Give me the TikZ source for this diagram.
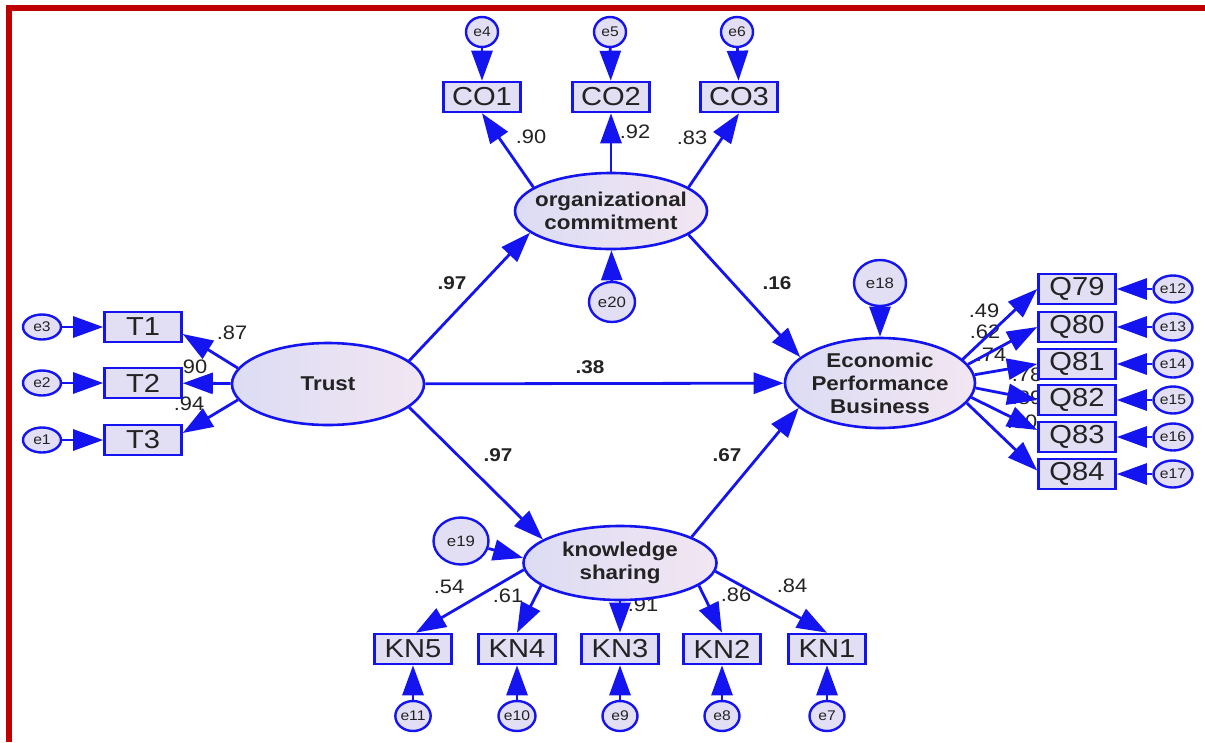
\documentclass[tikz,border=0pt]{standalone}
\usepackage{fontspec}
\setmainfont{Liberation Sans}[FakeStretch=1.12]
\usetikzlibrary{arrows.meta,shapes.geometric,backgrounds}
\definecolor{lineblue}{RGB}{20,20,240}
\definecolor{boxfill}{RGB}{226,222,244}
\definecolor{ellL}{RGB}{220,220,244}
\definecolor{ellR}{RGB}{242,230,242}
\definecolor{frame}{RGB}{192,0,0}
\definecolor{txt}{RGB}{35,35,35}
\begin{document}
\begin{tikzpicture}[x=1pt,y=-1pt,
 obs/.style={draw=lineblue,line width=2.6pt,fill=boxfill,minimum width=77pt,minimum height=30pt,inner sep=0pt,text=txt,font=\fontsize{26}{26}\selectfont},
 lat/.style={ellipse,draw=lineblue,line width=2.6pt,left color=ellL,right color=ellR,inner sep=0pt},
 lattext/.style={text=txt,font=\fontsize{20}{23}\selectfont\bfseries,align=center,inner sep=0pt},
 err/.style={ellipse,draw=lineblue,line width=2.4pt,fill=boxfill,inner sep=0pt,text=txt,font=\fontsize{14}{14}\selectfont},
 arr/.style={draw=lineblue,line width=2.8pt,-{Triangle[length=30pt,width=21pt]}},
 ld/.style={text=txt,font=\fontsize{19.5}{20}\selectfont,inner sep=0pt},
 pc/.style={text=txt,font=\fontsize{18.5}{19}\selectfont\bfseries,inner sep=0pt},
]
\useasboundingbox (0,0) rectangle (1205,742);

% latent variables
\node[lat,minimum width=192pt,minimum height=76pt] (OC) at (611,211) {};
\node[lattext] (OCt) at (OC) {organizational\\commitment};
\node[lat,minimum width=192pt,minimum height=82pt] (Trust) at (328,384) {};
\node[lattext] (Trustt) at (Trust) {Trust};
\node[lat,minimum width=190pt,minimum height=90pt] (EPB) at (880,383) {};
\node[lattext] (EPBt) at (EPB) {Economic\\Performance\\Business};
\node[lat,minimum width=193pt,minimum height=74pt] (KS) at (620,563) {};
\node[lattext] (KSt) at (KS) {knowledge\\sharing};

% observed
\node[obs] (CO1) at (482,97) {CO1};
\node[obs] (CO2) at (611,97) {CO2};
\node[obs] (CO3) at (739,97) {CO3};
\node[obs] (T1) at (143,327) {T1};
\node[obs] (T2) at (143,383) {T2};
\node[obs] (T3) at (143,440) {T3};
\node[obs] (Q79) at (1077,289) {Q79};
\node[obs] (Q80) at (1077,327) {Q80};
\node[obs] (Q81) at (1077,364) {Q81};
\node[obs] (Q82) at (1077,400) {Q82};
\node[obs] (Q83) at (1077,437) {Q83};
\node[obs] (Q84) at (1077,474) {Q84};
\node[obs] (KN5) at (413,649) {KN5};
\node[obs] (KN4) at (517,649) {KN4};
\node[obs] (KN3) at (620,649) {KN3};
\node[obs] (KN2) at (722,649) {KN2};
\node[obs] (KN1) at (827,649) {KN1};

% errors
\node[err,minimum width=32pt,minimum height=30pt] (e4) at (482,32) {e4};
\node[err,minimum width=32pt,minimum height=30pt] (e5) at (610,32) {e5};
\node[err,minimum width=32pt,minimum height=30pt] (e6) at (737,32) {e6};
\node[err,minimum width=38pt,minimum height=25pt] (e3) at (42,327) {e3};
\node[err,minimum width=38pt,minimum height=25pt] (e2) at (42,383) {e2};
\node[err,minimum width=38pt,minimum height=25pt] (e1) at (42,440) {e1};
\node[err,minimum width=39pt,minimum height=27pt] (e12) at (1173,289) {e12};
\node[err,minimum width=39pt,minimum height=27pt] (e13) at (1173,327) {e13};
\node[err,minimum width=39pt,minimum height=27pt] (e14) at (1173,364) {e14};
\node[err,minimum width=39pt,minimum height=27pt] (e15) at (1173,400) {e15};
\node[err,minimum width=39pt,minimum height=27pt] (e16) at (1173,437) {e16};
\node[err,minimum width=39pt,minimum height=27pt] (e17) at (1173,474) {e17};
\node[err,minimum width=35pt,minimum height=30pt] (e11) at (413,716) {e11};
\node[err,minimum width=35pt,minimum height=30pt] (e10) at (517,716) {e10};
\node[err,minimum width=35pt,minimum height=30pt] (e9) at (620,716) {e9};
\node[err,minimum width=35pt,minimum height=30pt] (e8) at (722,716) {e8};
\node[err,minimum width=35pt,minimum height=30pt] (e7) at (827,716) {e7};
\node[err,minimum width=52pt,minimum height=46pt,font=\fontsize{15}{15}\selectfont] (e18) at (880,283) {e18};
\node[err,minimum width=55pt,minimum height=47pt,font=\fontsize{15}{15}\selectfont] (e19) at (461,541) {e19};
\node[err,minimum width=46pt,minimum height=40pt,font=\fontsize{15}{15}\selectfont] (e20) at (612,302) {e20};

% background, frame and coefficient labels (behind arrows)
\begin{scope}[on background layer]
\fill[white] (0,0) rectangle (1205,742);
\fill[frame] (6,5) rectangle (1205,11);
\fill[frame] (6,5) rectangle (12,742);
\node[ld] (l1) at (531,137) {.90};
\node[ld] (l2) at (635,132) {.92};
\node[ld] (l3) at (692,138) {.83};
\node[pc] (p1) at (452,283) {.97};
\node[pc] (p2) at (777,283) {.16};
\node[pc] (p3) at (590,367) {.38};
\node[pc] (p4) at (498,455) {.97};
\node[pc] (p5) at (727,455) {.67};
\node[ld] (l4) at (232,333) {.87};
\node[ld] (l5) at (192,367) {.90};
\node[ld] (l6) at (189,404) {.94};
\node[ld] (l7) at (984,311) {.49};
\node[ld] (l8) at (985,332) {.62};
\node[ld] (l9) at (991,355) {.74};
\node[ld] (l10) at (1027,375) {.78};
\node[ld] (l11) at (1027,398) {.89};
\node[ld] (l12) at (1022,422) {.80};
\node[ld] (l13) at (449,587) {.54};
\node[ld] (l14) at (508,596) {.61};
\node[ld] (l15) at (643,605) {.91};
\node[ld] (l16) at (736,595) {.86};
\node[ld] (l17) at (792,586) {.84};
\end{scope}

% connectors
\draw[arr] (e4) -- (CO1);
\draw[arr] (e5) -- (CO2);
\draw[arr] (e6) -- (CO3);
\draw[arr] (OC.163) -- (CO1.south);
\draw[arr] (OC) -- (CO2);
\draw[arr] (OC.17) -- (CO3.south);
\draw[arr] (e20) -- (OC);
\draw[arr] (Trust.16) -- (OC.195);
\draw[arr] (Trust) -- (EPB);
\draw[arr] (Trust.-16) -- (KS.163);
\draw[arr] (OC.-17) -- (EPB.162);
\draw[arr] (KS.20) -- (EPB.197);
\draw[arr] (e18) -- (EPB);
\draw[arr] (Trust.170) -- (T1.-10);
\draw[arr] (Trust) -- (T2);
\draw[arr] (Trust.190) -- (T3.10);
\draw[arr] (e3) -- (T1);
\draw[arr] (e2) -- (T2);
\draw[arr] (e1) -- (T3);
\draw[arr] (EPB.16) -- (Q79.west);
\draw[arr] (EPB.12) -- (Q80.west);
\draw[arr] (EPB.5) -- (Q81.west);
\draw[arr] (EPB.-3) -- (Q82.west);
\draw[arr] (EPB.-9) -- (Q83.170);
\draw[arr] (EPB.-13) -- (Q84.175);
\draw[arr] (e12) -- (Q79);
\draw[arr] (e13) -- (Q80);
\draw[arr] (e14) -- (Q81);
\draw[arr] (e15) -- (Q82);
\draw[arr] (e16) -- (Q83);
\draw[arr] (e17) -- (Q84);
\draw[arr] (e19) -- (KS.177);
\draw[arr] (KS.184) -- (KN5.80);
\draw[arr] (KS.196) -- (KN4.north);
\draw[arr] (KS) -- (KN3);
\draw[arr] (KS.-16) -- (KN2.north);
\draw[arr] (KS.-5) -- (KN1.north);
\draw[arr] (e11) -- (KN5);
\draw[arr] (e10) -- (KN4);
\draw[arr] (e9) -- (KN3);
\draw[arr] (e8) -- (KN2);
\draw[arr] (e7) -- (KN1);
\end{tikzpicture}
\end{document}
